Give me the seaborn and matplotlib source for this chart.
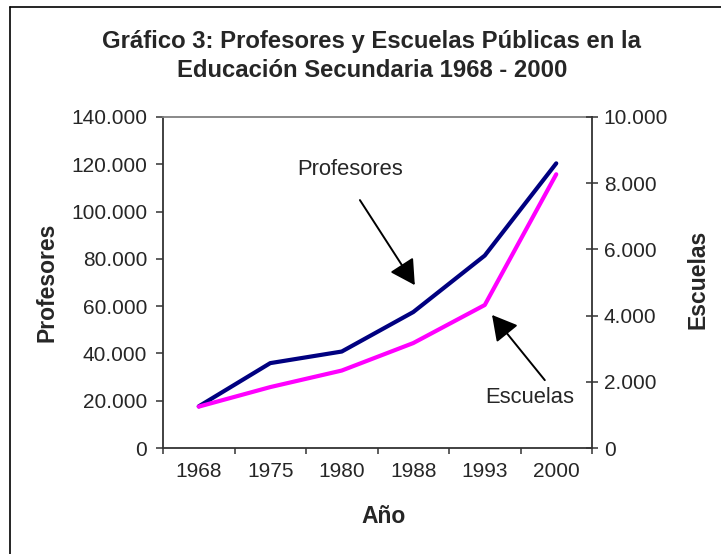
import numpy as np
import pandas as pd
import matplotlib
matplotlib.use("Agg")
import matplotlib.pyplot as plt
from matplotlib.ticker import FuncFormatter
from matplotlib.lines import Line2D
import seaborn as sns

sns.set_style("ticks")
plt.rcParams['font.family'] = ['Liberation Sans', 'DejaVu Sans']

# data
anios = ['1968', '1975', '1980', '1988', '1993', '2000']
profesores = [17600, 35900, 40800, 57500, 81400, 120400]
escuelas = [1250, 1840, 2340, 3170, 4320, 8270]

titulo_1 = 'Gráfico 3: Profesores y Escuelas Públicas en la'
titulo_2 = 'Educación Secundaria 1968 - 2000'

df = pd.DataFrame({'anio': anios, 'profesores': profesores, 'escuelas': escuelas})

fig = plt.figure(figsize=(7.21, 5.54), dpi=100)
ax = fig.add_axes([163 / 721, 1 - 448 / 554, 429 / 721, 331 / 554])

sns.lineplot(data=df, x='anio', y='profesores', ax=ax, color='#000080', lw=3.0,
             solid_capstyle='round', solid_joinstyle='round', legend=False)
ax2 = ax.twinx()
sns.lineplot(data=df, x='anio', y='escuelas', ax=ax2, color='#FF00FF', lw=3.0,
             solid_capstyle='round', solid_joinstyle='round', legend=False)

fmt = FuncFormatter(lambda v, p: f"{v:,.0f}".replace(',', '.'))

ax.set_xlim(-0.5, len(anios) - 0.5)
ax.set_ylim(0, 140000)
ax.set_yticks(np.arange(0, 140001, 20000))
ax.yaxis.set_major_formatter(fmt)
ax2.set_ylim(0, 10000)
ax2.set_yticks(np.arange(0, 10001, 2000))
ax2.yaxis.set_major_formatter(fmt)

# category boundaries get the ticks, labels sit in the middle
ax.set_xticks(np.arange(-0.5, len(anios)), [''] * (len(anios) + 1))
ax.set_xticks(np.arange(len(anios)), anios, minor=True)
ax.tick_params(axis='x', which='major', direction='out', length=4.3, width=1.1, color='#333333')
ax.tick_params(axis='x', which='minor', length=0, pad=10, labelsize=15)
ax.tick_params(axis='y', direction='out', length=5, width=1.1, color='#333333', pad=6.5, labelsize=15)
ax2.tick_params(axis='y', direction='inout', length=8, width=1.1, color='#333333', pad=4.5, labelsize=15)

for s in ['left', 'bottom']:
    ax.spines[s].set_color('#333333')
    ax.spines[s].set_linewidth(1.3)
ax.spines['top'].set_color('#808080')
ax.spines['top'].set_linewidth(1.3)
ax.spines['right'].set_visible(False)
for s in ['top', 'left', 'bottom']:
    ax2.spines[s].set_visible(False)
ax2.spines['right'].set_color('#333333')
ax2.spines['right'].set_linewidth(1.3)

ax.set_xlabel('Año', fontsize=16.5, fontweight='bold')
ax.xaxis.label.set_va('baseline')
ax.xaxis.set_label_coords(0.513, -0.2266)
ax.set_ylabel('Profesores', fontsize=16.5, fontweight='bold')
ax.yaxis.label.set_va('baseline')
ax.yaxis.set_label_coords(-0.2564, 0.5)
ax2.set_ylabel('Escuelas', fontsize=16.5, fontweight='bold')
ax2.yaxis.label.set_va('baseline')
ax2.yaxis.set_label_coords(1.263, 0.51)

# callouts
arrow_kw = dict(arrowstyle='-|>,head_length=0.45,head_width=0.25', color='black',
                lw=1.4, mutation_scale=34, shrinkA=0, shrinkB=0)
ax2.text(0.436, 0.840, 'Profesores', transform=ax2.transAxes, ha='center', va='center', fontsize=15.8)
ax2.annotate('', xy=(0.587, 0.492), xytext=(0.459, 0.749), xycoords='axes fraction', arrowprops=arrow_kw)
ax2.text(0.855, 0.154, 'Escuelas', transform=ax2.transAxes, ha='center', va='center', fontsize=15.8)
ax2.annotate('', xy=(0.767, 0.402), xytext=(0.890, 0.205), xycoords='axes fraction', arrowprops=arrow_kw)

fig.text(372 / 721, 1 - 48 / 554, titulo_1, ha='center', va='baseline', fontsize=17.2, fontweight='bold')
fig.text(372 / 721, 1 - 77 / 554, titulo_2, ha='center', va='baseline', fontsize=17.2, fontweight='bold')

# chart area frame (only top and left edges show)
bx, by = 10 / 721, 1 - 6.5 / 554
fig.add_artist(Line2D([bx, 1], [by, by], transform=fig.transFigure, color='black', lw=1.2))
fig.add_artist(Line2D([bx, bx], [0, by], transform=fig.transFigure, color='black', lw=1.2))

fig.savefig('out.png', dpi=100)
